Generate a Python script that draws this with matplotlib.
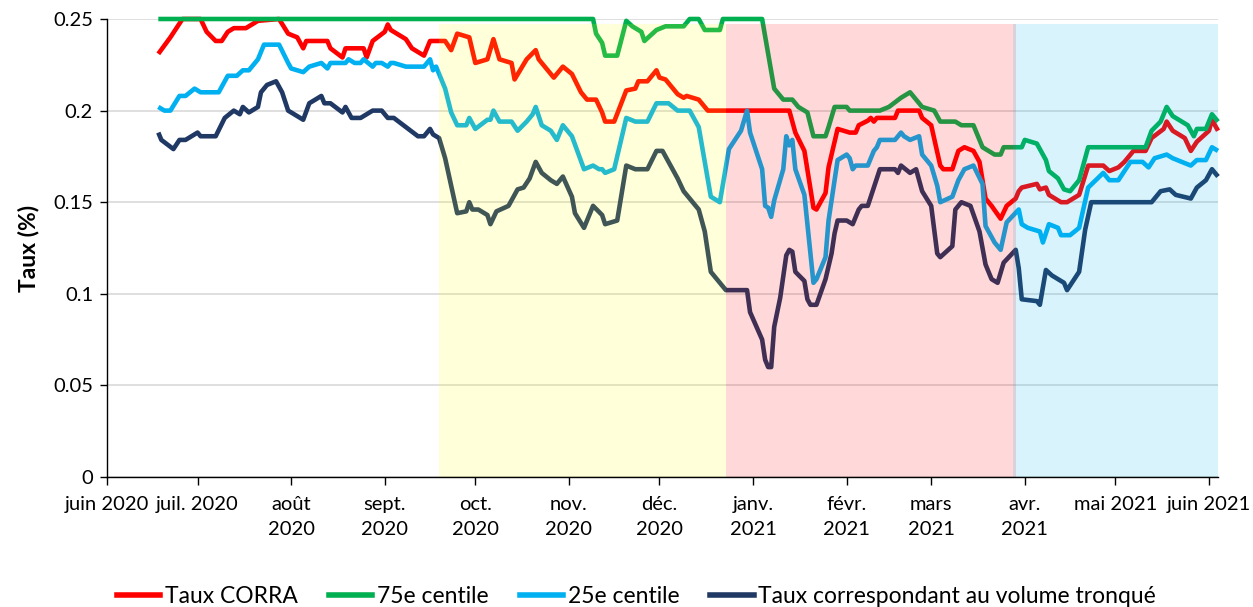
import matplotlib
matplotlib.use("Agg")
import matplotlib.pyplot as plt
import pandas as pd
from matplotlib.lines import Line2D

plt.rcParams['font.family'] = ['Lato', 'DejaVu Sans']

BASE = pd.Timestamp('2020-06-01')  # day 0 of the day offsets below

# ---- Taux CORRA (days since 2020-06-01, value in %) ----
corra_day = [17, 21, 25, 31, 33, 36, 38, 40, 42, 46, 50, 57, 60, 63, 65, 66, 73, 74, 78, 79, 85, 86, 88,
             92, 93, 94, 99, 101, 105, 107, 112, 114, 116, 120, 122, 126, 128, 130, 134, 135, 139, 142,
             143, 148, 151, 154, 157, 159, 162, 164, 165, 168, 172, 175, 176, 179, 182, 183, 185, 189,
             191, 192, 196, 199, 226, 228, 231, 234, 235, 238, 239, 242, 246, 248, 249, 252, 253, 254,
             255, 261, 262, 269, 270, 273, 276, 277, 280, 282, 284, 287, 289, 291, 293, 296, 298, 301,
             302, 303, 308, 309, 311, 312, 314, 316, 318, 322, 325, 330, 332, 335, 337, 340, 344, 346,
             350, 351, 353, 357, 359, 361, 365, 366, 368]
corra_val = [0.231, 0.240, 0.250, 0.250, 0.243, 0.238, 0.238, 0.243, 0.245, 0.245, 0.249, 0.250, 0.242,
             0.240, 0.234, 0.238, 0.238, 0.234, 0.229, 0.234, 0.234, 0.229, 0.238, 0.243, 0.247, 0.244,
             0.239, 0.234, 0.230, 0.238, 0.238, 0.233, 0.242, 0.240, 0.226, 0.228, 0.239, 0.228, 0.226,
             0.217, 0.228, 0.233, 0.228, 0.218, 0.224, 0.220, 0.210, 0.206, 0.206, 0.199, 0.194, 0.194,
             0.211, 0.212, 0.216, 0.216, 0.222, 0.218, 0.217, 0.209, 0.207, 0.208, 0.206, 0.200, 0.200,
             0.188, 0.178, 0.147, 0.146, 0.155, 0.169, 0.190, 0.188, 0.188, 0.192, 0.1945, 0.196, 0.194,
             0.196, 0.196, 0.200, 0.200, 0.196, 0.192, 0.170, 0.168, 0.168, 0.178, 0.180, 0.178, 0.172,
             0.152, 0.148, 0.141, 0.148, 0.152, 0.156, 0.158, 0.160, 0.157, 0.158, 0.154, 0.152, 0.150,
             0.150, 0.154, 0.170, 0.170, 0.167, 0.169, 0.172, 0.178, 0.178, 0.185, 0.190, 0.194, 0.189,
             0.185, 0.178, 0.183, 0.189, 0.195, 0.189]

# ---- 75e centile ----
p75_day = [17, 161, 162, 164, 165, 169, 172, 174, 177, 178, 182, 185, 191, 193, 196, 198, 203, 204, 217,
           221, 224, 227, 229, 232, 234, 238, 239, 241, 245, 246, 256, 259, 263, 266, 270, 274, 276, 281,
           283, 287, 290, 294, 296, 297, 303, 304, 308, 311, 312, 315, 317, 319, 322, 325, 344, 346, 349,
           351, 353, 358, 360, 361, 364, 366, 368]
p75_val = [0.250, 0.250, 0.242, 0.237, 0.230, 0.230, 0.249, 0.246, 0.243, 0.238, 0.244, 0.246, 0.246,
           0.250, 0.250, 0.244, 0.244, 0.250, 0.250, 0.212, 0.206, 0.206, 0.202, 0.199, 0.186, 0.186,
           0.191, 0.202, 0.202, 0.200, 0.200, 0.202, 0.207, 0.210, 0.202, 0.200, 0.194, 0.194, 0.192,
           0.192, 0.180, 0.176, 0.176, 0.180, 0.180, 0.184, 0.182, 0.173, 0.167, 0.163, 0.157, 0.156,
           0.162, 0.180, 0.180, 0.189, 0.194, 0.202, 0.197, 0.192, 0.186, 0.190, 0.190, 0.198, 0.194]

# ---- 25e centile ----
p25_day = [17, 19, 21, 24, 26, 29, 31, 37, 40, 43, 45, 47, 50, 52, 57, 60, 61, 65, 67, 71, 73, 74, 79,
           80, 82, 84, 85, 88, 89, 91, 93, 94, 95, 99, 105, 107, 108, 109, 112, 114, 116, 119, 120, 122,
           126, 127, 128, 130, 134, 136, 139, 141, 142, 144, 147, 149, 151, 154, 158, 161, 163, 164, 165,
           168, 172, 175, 179, 182, 186, 189, 193, 196, 200, 203, 206, 210, 212, 213, 217, 218, 219, 220,
           221, 224, 225, 226, 227, 228, 231, 234, 235, 238, 239, 242, 245, 246, 247, 248, 252, 254, 255,
           256, 261, 263, 264, 266, 269, 270, 273, 275, 276, 280, 282, 284, 287, 290, 291, 294, 296, 298,
           302, 303, 305, 309, 310, 312, 315, 316, 319, 322, 325, 330, 332, 335, 339, 343, 345, 347, 351,
           353, 356, 359, 361, 364, 366, 368]
p25_val = [0.202, 0.200, 0.200, 0.208, 0.208, 0.212, 0.210, 0.210, 0.219, 0.219, 0.222, 0.222, 0.228,
           0.236, 0.236, 0.226, 0.223, 0.221, 0.224, 0.226, 0.223, 0.226, 0.226, 0.228, 0.226, 0.226,
           0.228, 0.224, 0.226, 0.226, 0.224, 0.226, 0.226, 0.224, 0.224, 0.228, 0.222, 0.224, 0.212,
           0.199, 0.192, 0.192, 0.196, 0.190, 0.195, 0.195, 0.200, 0.194, 0.194, 0.189, 0.194, 0.198,
           0.202, 0.192, 0.189, 0.184, 0.192, 0.186, 0.168, 0.170, 0.168, 0.168, 0.166, 0.168, 0.196,
           0.194, 0.194, 0.204, 0.204, 0.200, 0.200, 0.191, 0.153, 0.150, 0.179, 0.189, 0.200, 0.188,
           0.168, 0.148, 0.147, 0.142, 0.151, 0.168, 0.186, 0.181, 0.184, 0.168, 0.154, 0.106, 0.108,
           0.120, 0.140, 0.173, 0.176, 0.174, 0.168, 0.170, 0.170, 0.178, 0.180, 0.184, 0.184, 0.188,
           0.186, 0.184, 0.186, 0.176, 0.170, 0.159, 0.150, 0.153, 0.162, 0.168, 0.170, 0.160, 0.137,
           0.128, 0.124, 0.139, 0.146, 0.138, 0.136, 0.134, 0.128, 0.138, 0.136, 0.132, 0.132, 0.136,
           0.158, 0.166, 0.162, 0.162, 0.172, 0.172, 0.169, 0.174, 0.176, 0.174, 0.172, 0.170, 0.173,
           0.173, 0.180, 0.178]

# ---- Taux correspondant au volume tronqué ----
trunc_day = [17, 18, 22, 24, 26, 30, 31, 36, 39, 42, 44, 45, 47, 50, 51, 52, 53, 56, 58, 60, 65, 67, 71,
             72, 74, 78, 79, 81, 84, 86, 88, 91, 93, 95, 99, 103, 105, 107, 108, 110, 112, 114, 116, 119,
             120, 121, 123, 126, 127, 129, 133, 134, 136, 138, 140, 142, 144, 147, 149, 151, 154, 155,
             158, 161, 164, 165, 169, 172, 175, 179, 182, 184, 186, 189, 191, 193, 196, 198, 200, 205,
             212, 213, 217, 218, 219, 220, 221, 223, 225, 226, 227, 228, 231, 232, 233, 235, 238, 240,
             241, 242, 245, 247, 249, 250, 252, 254, 256, 261, 262, 263, 266, 268, 270, 273, 275, 276,
             280, 281, 283, 286, 289, 291, 293, 295, 297, 301, 302, 303, 308, 309, 311, 313, 316, 317,
             318, 322, 324, 326, 346, 349, 352, 354, 359, 361, 364, 366, 368]
trunc_val = [0.188, 0.184, 0.179, 0.184, 0.184, 0.188, 0.186, 0.186, 0.196, 0.200, 0.198, 0.202, 0.199,
             0.202, 0.210, 0.212, 0.214, 0.216, 0.210, 0.200, 0.195, 0.204, 0.208, 0.204, 0.204, 0.199,
             0.202, 0.196, 0.196, 0.198, 0.200, 0.200, 0.196, 0.196, 0.191, 0.186, 0.186, 0.190, 0.187,
             0.185, 0.174, 0.159, 0.144, 0.145, 0.150, 0.146, 0.146, 0.143, 0.138, 0.145, 0.148, 0.151,
             0.157, 0.158, 0.163, 0.172, 0.166, 0.162, 0.160, 0.164, 0.153, 0.144, 0.136, 0.148, 0.143,
             0.138, 0.140, 0.170, 0.168, 0.168, 0.178, 0.178, 0.172, 0.163, 0.156, 0.152, 0.146, 0.134,
             0.112, 0.102, 0.102, 0.090, 0.075, 0.064, 0.060, 0.060, 0.082, 0.098, 0.121, 0.124, 0.123,
             0.112, 0.107, 0.097, 0.094, 0.094, 0.108, 0.122, 0.133, 0.140, 0.140, 0.138, 0.146, 0.148,
             0.148, 0.158, 0.168, 0.168, 0.166, 0.170, 0.166, 0.168, 0.156, 0.148, 0.122, 0.120, 0.126,
             0.146, 0.150, 0.148, 0.134, 0.116, 0.108, 0.106, 0.117, 0.124, 0.114, 0.097, 0.096, 0.094,
             0.113, 0.110, 0.107, 0.106, 0.102, 0.112, 0.135, 0.150, 0.150, 0.156, 0.157, 0.154, 0.152,
             0.158, 0.162, 0.168, 0.164]

series_names = ['Taux CORRA', '75e centile', '25e centile', 'Taux correspondant au volume tronqué']
series_colors = ['#FF0000', '#00B050', '#00B0F0', '#1F3864']

# ---- shaded periods ----
period_start = ['2020-09-19', '2020-12-23', '2021-03-28']
period_end = ['2020-12-23', '2021-03-29', '2021-06-04']
period_colors = ['#FFFF00', '#FF0000', '#00B0F0']
band_top = 0.247

# ---- axes ----
x_min, x_max = '2020-06-01', '2021-06-04'
month_ticks = ['2020-06-01', '2020-07-01', '2020-08-01', '2020-09-01', '2020-10-01', '2020-11-01',
               '2020-12-01', '2021-01-01', '2021-02-01', '2021-03-01', '2021-04-01', '2021-05-01',
               '2021-06-01']
month_labels = ['juin 2020', 'juil. 2020', 'août\n2020', 'sept.\n2020', 'oct.\n2020', 'nov.\n2020',
                'déc.\n2020', 'janv.\n2021', 'févr.\n2021', 'mars\n2021', 'avr.\n2021', 'mai 2021',
                'juin 2021']
y_ticks = [0, 0.05, 0.1, 0.15, 0.2, 0.25]
y_labels = ['0', '0.05', '0.1', '0.15', '0.2', '0.25']


def to_dates(days):
    return BASE + pd.to_timedelta(days, unit='D')


fig = plt.figure(figsize=(12.53, 6.07), dpi=100)
ax = fig.add_axes([107 / 1253, 1 - 477 / 607, (1218 - 107) / 1253, (477 - 19) / 607])

all_days = [corra_day, p75_day, p25_day, trunc_day]
all_vals = [corra_val, p75_val, p25_val, trunc_val]
handles = []
for d, v, name, col in zip(all_days, all_vals, series_names, series_colors):
    ax.plot(to_dates(d), v, color=col, lw=3.3, solid_joinstyle='round', solid_capstyle='butt',
            zorder=2, clip_on=False)
    handles.append(Line2D([], [], color=col, lw=4, label=name))

for s, e, c in zip(period_start, period_end, period_colors):
    ax.fill_between([pd.Timestamp(s), pd.Timestamp(e)], 0, band_top, color=c, alpha=0.15,
                    lw=0, zorder=3)

ax.set_xlim(pd.Timestamp(x_min), pd.Timestamp(x_max))
ax.set_ylim(0, 0.25)
ax.set_xticks([pd.Timestamp(t) for t in month_ticks])
ax.set_xticklabels(month_labels, fontsize=14.5, linespacing=1.55)
ax.set_yticks(y_ticks)
ax.set_yticklabels(y_labels, fontsize=14.5)
ax.yaxis.grid(True, color='#D9D9D9', lw=1.2, zorder=0)
ax.set_axisbelow(True)
for sp in ['top', 'right']:
    ax.spines[sp].set_visible(False)
for sp in ['left', 'bottom']:
    ax.spines[sp].set_linewidth(1.0)
    ax.spines[sp].set_color('black')
    ax.spines[sp].set_zorder(4)
ax.tick_params(axis='x', direction='out', length=6, width=1.0, pad=8)
ax.tick_params(axis='y', direction='out', length=5, width=1.0, pad=5)
ax.set_ylabel('Taux (%)', fontsize=16.5, fontweight='bold', labelpad=10)

fig.legend(handles=handles, loc='center', bbox_to_anchor=(0.508, 0.018), ncol=4, frameon=False,
           fontsize=16.5, handlelength=1.9, handletextpad=0.2, columnspacing=1.35)

fig.savefig('out.png', dpi=100)
